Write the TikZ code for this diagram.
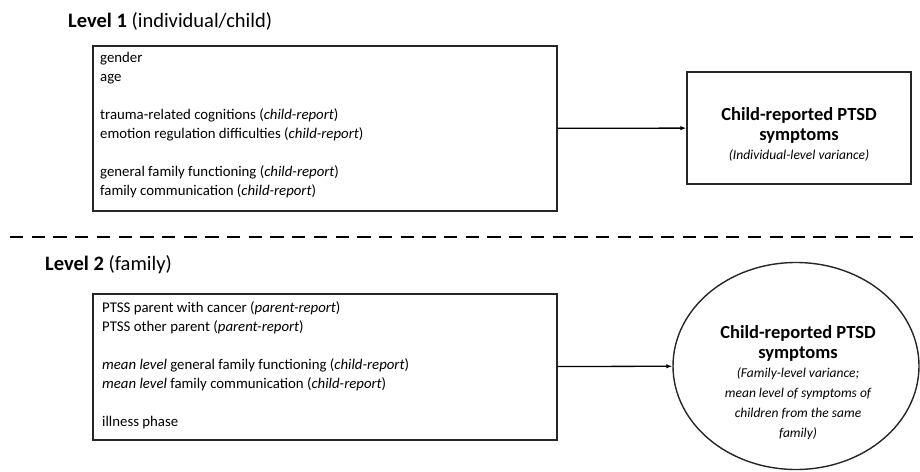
\documentclass[tikz,border=0pt]{standalone}
\usepackage{fontspec}
\setmainfont{Carlito}
\usetikzlibrary{shapes.geometric,arrows.meta}
\newcommand\subtxt{\fontsize{13.5}{17.5}\selectfont\mdseries\itshape}
\begin{document}
\begin{tikzpicture}[x=1pt,y=-1pt,
  boxline/.style={draw=black!85,line width=1.4pt},
  bodytext/.style={font=\fontsize{14.8}{19}\selectfont,align=left,anchor=west,inner sep=0pt},
  titletext/.style={font=\fontsize{20.5}{24}\selectfont,anchor=west,inner sep=0pt},
  outtext/.style={align=center,inner sep=0pt,font=\fontsize{18.5}{20}\selectfont\bfseries},
  conn/.style={line width=1.3pt,-{Latex[length=6pt,width=4.5pt]}}]
\useasboundingbox (0,0) rectangle (920,471);
% Level 1
\node[titletext] (t1) at (68,21) {\textbf{Level 1} (individual/child)};
\node[boxline,minimum width=464pt,minimum height=165pt,inner sep=0pt] (b1) at (325,128.5) {};
\node[bodytext] (b1t) at (100,125.5) {gender\\age\\[19pt]trauma-related cognitions (\textit{child-report})\\emotion regulation difficulties (\textit{child-report})\\[19pt]general family functioning (\textit{child-report})\\family communication (\textit{child-report})};
\node[boxline,minimum width=224pt,minimum height=112pt,inner sep=0pt] (r1) at (799,128) {};
\node[outtext] (r1t) at (799,134) {Child-reported PTSD\\symptoms\\[-1pt]\subtxt (Individual-level variance)};
\draw[conn] (b1) -- (r1);
% separator
\coordinate (d1) at (10,237);
\coordinate (d2) at (920,237);
\draw[line width=2.7pt,dash pattern=on 13.3pt off 8.4pt] (d1) -- (d2);
% Level 2
\node[titletext] (t2) at (45,265) {\textbf{Level 2} (family)};
\node[boxline,minimum width=464pt,minimum height=146pt,inner sep=0pt] (b2) at (325,367) {};
\node[bodytext] (b2t) at (102,365) {PTSS parent with cancer (\textit{parent-report})\\PTSS other parent (\textit{parent-report})\\[19pt]\textit{mean level} general family functioning (\textit{child-report})\\\textit{mean level} family communication (\textit{child-report})\\[19pt]illness phase};
\node[ellipse,boxline,minimum width=246pt,minimum height=207pt,inner sep=0pt] (e2) at (796,366) {};
\node[outtext] (e2t) at (798,383) {Child-reported PTSD\\symptoms\\[-1pt]\subtxt (Family-level variance;\\\subtxt mean level of symptoms of\\\subtxt children from the same\\\subtxt family)};
\draw[conn] (b2) -- (e2);
\end{tikzpicture}
\end{document}
